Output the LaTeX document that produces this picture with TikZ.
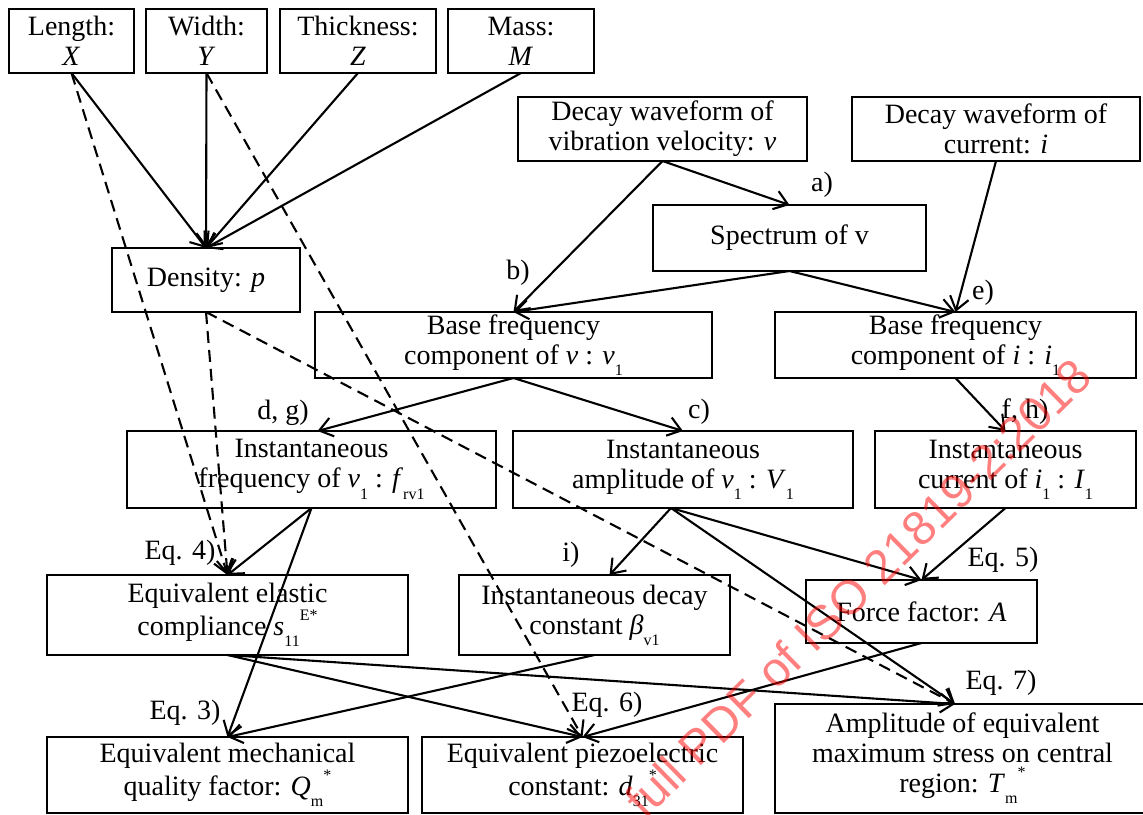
\documentclass[tikz,border=0pt]{standalone}
\usepackage{fontspec}
\setmainfont{Liberation Serif}
\newfontfamily\wmfont{Liberation Sans}
\usetikzlibrary{arrows.meta,calc}
\newcommand{\lo}[1]{\raisebox{-0.40em}{\fontsize{16}{16}\selectfont #1}}
\newcommand{\hi}[1]{\raisebox{0.55em}{\fontsize{16}{16}\selectfont #1}}
\begin{document}
\begin{tikzpicture}[x=1pt,y=-1pt,
  box/.style={draw, line width=2.4pt, inner sep=0pt, outer sep=0pt, align=center,
    font=\fontsize{28}{30}\selectfont},
  lab/.style={font=\fontsize{28}{30}\selectfont, inner sep=0pt},
  arr/.style={line width=2.1pt, -{Straight Barb[length=13pt,width=19pt,line width=2.1pt]}},
  dsh/.style={arr, dash pattern=on 12pt off 7pt}]
\useasboundingbox (0,0) rectangle (1143,814);
% top row
\node[box, minimum width=125pt, minimum height=64pt] (L) at (71.5,41) {Length:\\\textit{X}};
\node[box, minimum width=121pt, minimum height=64pt] (W) at (206.5,41) {Width:\\\textit{Y}};
\node[box, minimum width=156pt, minimum height=64pt] (T) at (358,41) {Thickness:\\\textit{Z}};
\node[box, minimum width=146pt, minimum height=64pt] (M) at (521,41) {Mass:\\\textit{M}};
\node[box, minimum width=289pt, minimum height=64pt] (DV) at (662.5,129) {Decay waveform of\\vibration velocity: \textit{v}};
\node[box, minimum width=288pt, minimum height=64pt] (DI) at (996,129) {Decay waveform of\\current: \textit{i}};
\node[box, minimum width=273pt, minimum height=66pt] (SP) at (789.5,238) {Spectrum of v};
\node[box, minimum width=188pt, minimum height=64pt] (DEN) at (206,280) {Density: \textit{p}};
\node[box, minimum width=397pt, minimum height=66pt] (BV) at (513.5,345) {Base frequency\\component of \textit{v} : \textit{v}\lo{1}};
\node[box, minimum width=361pt, minimum height=66pt] (BI) at (955.5,345) {Base frequency\\component of \textit{i} : \textit{i}\lo{1}};
\node[box, minimum width=369pt, minimum height=77pt] (IF) at (311.5,469.5) {Instantaneous\\frequency of \textit{v}\lo{1} : \textit{f}\lo{rv1}};
\node[box, minimum width=340pt, minimum height=77pt] (IA) at (683,469.5) {Instantaneous\\amplitude of \textit{v}\lo{1} : \textit{V}\lo{1}};
\node[box, minimum width=261pt, minimum height=77pt] (IC) at (1005.5,469.5) {Instantaneous\\current of \textit{i}\lo{1} : \textit{I}\lo{1}};
\node[box, minimum width=361pt, minimum height=80pt] (EE) at (227.5,615) {Equivalent elastic\\compliance \textit{s}\lo{11}\hi{E*}};
\node[box, minimum width=271pt, minimum height=80pt] (ID) at (594.5,615) {Instantaneous decay\\constant \textit{β}\lo{v1}};
\node[box, minimum width=231pt, minimum height=63pt] (FF) at (921.5,611.5) {Force factor: \textit{A}};
\node[box, minimum width=375pt, minimum height=109pt] (AM) at (962.5,758.5) {Amplitude of equivalent\\maximum stress on central\\region: \textit{T}\lo{m}\hi{*}};
\node[box, minimum width=361pt, minimum height=76pt] (EM) at (227.5,775) {Equivalent mechanical\\quality factor: \textit{Q}\lo{m}\hi{*}};
\node[box, minimum width=321pt, minimum height=76pt] (EP) at (582.5,775) {Equivalent piezoelectric\\constant: \textit{d}\lo{31}\hi{*}};
% connectors
\draw[arr] (L.south) -- (DEN.north);
\draw[arr] (W.south) -- (DEN.north);
\draw[arr] (T.south) -- (DEN.north);
\draw[arr] (M.south) -- (DEN.north);
\draw[dsh] (L.south) -- (EE.north);
\draw[dsh] (W.south) -- (EP.north);
\draw[dsh] (DEN.south) -- (EE.north);
\draw[dsh] (DEN.south) -- ([xshift=-7.5pt]AM.north);
\draw[arr] (DV.south) -- (SP.north);
\draw[arr] (DV.south) -- (BV.north);
\draw[arr] (SP.south) -- (BV.north);
\draw[arr] (SP.south) -- (BI.north);
\draw[arr] (DI.south) -- (BI.north);
\draw[arr] (BV.south) -- ([xshift=6pt]IF.north);
\draw[arr] (BV.south) -- (IA.north);
\draw[arr] (BI.south) -- (IC.north);
\draw[arr] (IF.south) -- (EE.north);
\draw[arr] (IF.south) -- (EM.north);
\draw[arr] ([xshift=-12pt]IA.south) -- ([xshift=15pt]ID.north);
\draw[arr] ([xshift=-12pt]IA.south) -- (FF.north);
\draw[arr] ([xshift=-12pt]IA.south) -- ([xshift=-7.5pt]AM.north);
\draw[arr] (IC.south) -- (FF.north);
\draw[arr] (EE.south) -- ([xshift=-7.5pt]AM.north);
\draw[arr] (EE.south) -- (EP.north);
\draw[arr] (ID.south) -- (EM.north);
\draw[arr] (FF.south) -- (EP.north);
% labels
\node[lab] (la) at (822,185) {a)};
\node[lab] (lb) at (518,273) {b)};
\node[lab] (lc) at (699,412) {c)};
\node[lab] (ldg) at (283,413) {d, g)};
\node[lab] (le) at (983,293) {e)};
\node[lab] (lfh) at (1025,412) {f, h)};
\node[lab] (li) at (571,555) {i)};
\node[lab] (l4) at (180,553) {Eq. 4)};
\node[lab] (l3) at (185,713) {Eq. 3)};
\node[lab] (l5) at (1003,560) {Eq. 5)};
\node[lab] (l6) at (607,705) {Eq. 6)};
\node[lab] (l7) at (1001,683) {Eq. 7)};
% watermark
\node[rotate=44.5, text=red, opacity=0.5, inner sep=0pt,
  font=\wmfont\fontsize{48}{48}\selectfont] (wm) at (858,588) {full PDF of ISO 21819-2:2018};
\end{tikzpicture}
\end{document}
